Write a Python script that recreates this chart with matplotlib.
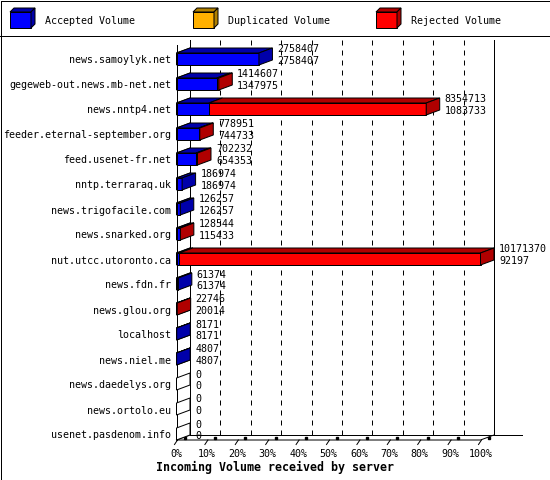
import matplotlib
matplotlib.use('Agg')
import matplotlib.pyplot as plt
from matplotlib.patches import Polygon
from matplotlib.lines import Line2D

servers = ['news.samoylyk.net', 'gegeweb-out.news.mb-net.net', 'news.nntp4.net',
           'feeder.eternal-september.org', 'feed.usenet-fr.net', 'nntp.terraraq.uk',
           'news.trigofacile.com', 'news.snarked.org', 'nut.utcc.utoronto.ca',
           'news.fdn.fr', 'news.glou.org', 'localhost', 'news.niel.me',
           'news.daedelys.org', 'news.ortolo.eu', 'usenet.pasdenom.info']
total_volume = [2758407, 1414607, 8354713, 778951, 702232, 186974, 126257, 128544,
                10171370, 61374, 22746, 8171, 4807, 0, 0, 0]
accepted_volume = [2758407, 1347975, 1083733, 744733, 654353, 186974, 126257, 115433,
                   92197, 61374, 20014, 8171, 4807, 0, 0, 0]
duplicated_volume = [0, 0, 0, 0, 0, 0, 0, 0, 0, 0, 0, 0, 0, 0, 0, 0]
legend_labels = ['Accepted Volume', 'Duplicated Volume', 'Rejected Volume']
percent_ticks = [0, 10, 20, 30, 40, 50, 60, 70, 80, 90, 100]
title = 'Incoming Volume received by server'

front_colors = ['#0000ff', '#ffb000', '#ff0000']
dark_colors = ['#0000aa', '#b08000', '#b00000']
MONO = 'DejaVu Sans Mono'
W, H = 550, 480
LW = 0.72


def fx(px):
    return px / W


def fy(py):
    return 1 - py / H


fig = plt.figure(figsize=(W / 100, H / 100), dpi=100)
ax = fig.add_axes([fx(176.5), fy(446.5), 304 / W, 400 / H])
xmax = max(total_volume)
ax.set_xlim(0, xmax)
ax.set_ylim(15.5, -0.5)
ax.axis('off')

px_x = xmax / 304.0   # one pixel in data units
px_y = 1 / 25.0
ddx = 13.5 * px_x     # 3d depth
ddy = 5 * px_y
half = 6 * px_y
n = len(servers)
floor_front = n - 1 + half
floor_back = floor_front - ddy
wall_top = -0.76


def line(xs, ys, **kw):
    ax.add_line(Line2D(xs, ys, color='black', lw=LW, clip_on=False, **kw))


def poly(verts, fc, z=3):
    ax.add_patch(Polygon(verts, closed=True, facecolor=fc, edgecolor='black',
                         lw=LW, clip_on=False, joinstyle='miter', zorder=z))


def label(txt, xy, off, ha='left'):
    ax.annotate(txt, xy=xy, xytext=off, textcoords='offset pixels', ha=ha, va='center',
                family=MONO, fontsize=7.2, zorder=4, annotation_clip=False)


# back walls, grid and floor
line([ddx, ddx], [wall_top, floor_back], zorder=1)
line([xmax + ddx, xmax + ddx], [wall_top, floor_back], zorder=1)
for p in percent_ticks[1:-1]:
    x = p / 100 * xmax + ddx
    line([x, x], [wall_top, floor_back], dashes=(5, 5), zorder=1)
line([ddx, xmax * 1.135], [floor_back, floor_back], zorder=1)
line([0, 0], [-0.55, floor_front], zorder=2)
line([0, xmax, xmax + ddx], [floor_front, floor_front, floor_back], zorder=2)
line([0, ddx], [floor_front, floor_back], zorder=2)

# x ticks
for p in percent_ticks:
    x = p / 100 * xmax
    line([x - 2 * px_x, x + 1 * px_x], [floor_front + 4.5 * px_y, floor_front], zorder=2)
    ax.plot([x + 8 * px_x], [floor_front - 2.5 * px_y], marker='s', ms=1.6,
            color='black', clip_on=False, zorder=2)
    label('%d%%' % p, (x, floor_front), (0, -14), ha='center')

# bars
for i in range(n):
    top, bot = i - half, i + half
    poly([(0, top), (ddx, top - ddy), (ddx, bot - ddy), (0, bot)], 'white', z=2)
    rejected = total_volume[i] - accepted_volume[i] - duplicated_volume[i]
    parts = [accepted_volume[i], duplicated_volume[i], rejected]
    x0 = 0
    last = None
    for k, v in enumerate(parts):
        if v <= 0:
            continue
        x1 = x0 + v
        poly([(x0, bot), (x1, bot), (x1, top), (x0, top)], front_colors[k])
        poly([(x0, top), (x1, top), (x1 + ddx, top - ddy), (x0 + ddx, top - ddy)], dark_colors[k])
        x0 = x1
        last = k
    if last is not None:
        poly([(x0, top), (x0 + ddx, top - ddy), (x0 + ddx, bot - ddy), (x0, bot)], dark_colors[last])
    label(servers[i], (0, i), (-5, -1.5), ha='right')
    label(str(total_volume[i]), (total_volume[i] + ddx, top - ddy), (5, -1.5))
    label(str(accepted_volume[i]), (total_volume[i] + ddx, top - ddy), (5, -13))

# legend
for k, name in enumerate(legend_labels):
    bx = 10 + 183 * k
    front = [(bx, 12), (bx + 21, 12), (bx + 21, 28), (bx, 28)]
    topf = [(bx, 12), (bx + 21, 12), (bx + 25, 8), (bx + 4, 8)]
    side = [(bx + 21, 12), (bx + 25, 8), (bx + 25, 24), (bx + 21, 28)]
    for verts, c in [(front, front_colors[k]), (topf, dark_colors[k]), (side, dark_colors[k])]:
        fig.add_artist(Polygon([(fx(a), fy(b)) for a, b in verts], closed=True, facecolor=c,
                               edgecolor='black', lw=LW, transform=fig.transFigure))
    fig.text(fx(bx + 35), fy(21), name, family=MONO, fontsize=7.2, va='center')

# frame and separator
fig.add_artist(Line2D([fx(0.5), fx(549.5), fx(549.5), fx(0.5), fx(0.5)],
                      [fy(0.5), fy(0.5), fy(479.5), fy(479.5), fy(0.5)],
                      color='black', lw=LW, transform=fig.transFigure))
fig.add_artist(Line2D([fx(0), fx(550)], [fy(35.5), fy(35.5)], color='black', lw=LW,
                      transform=fig.transFigure))

fig.text(fx(156), fy(467), title, family=MONO, fontweight='bold', fontsize=8.4, va='center')

fig.savefig('out.png', dpi=100, facecolor='white')
